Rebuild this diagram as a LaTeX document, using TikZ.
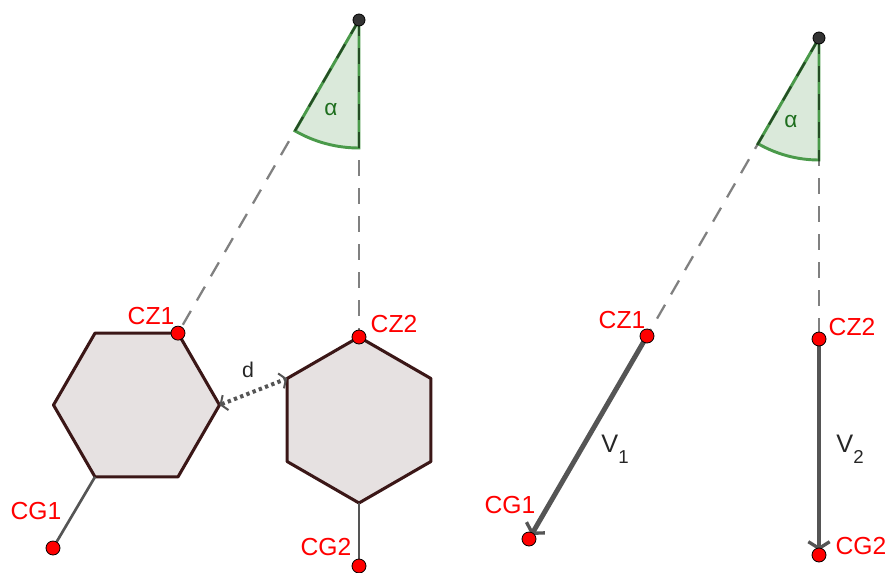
\documentclass[tikz,border=0pt]{standalone}
\usepackage{fontspec}
\setmainfont{Liberation Sans}
\usetikzlibrary{arrows.meta}

\definecolor{hexfill}{HTML}{E6E1E1}
\definecolor{hexline}{HTML}{3B1717}
\definecolor{anglefill}{HTML}{DAE9DA}
\definecolor{angleline}{HTML}{4A9A4A}
\definecolor{angletext}{HTML}{1E6E1E}
\definecolor{guide}{HTML}{808080}
\definecolor{vecgray}{HTML}{555555}
\definecolor{apexgray}{HTML}{333333}

\begin{document}
\begin{tikzpicture}[x=0.75pt,y=-0.75pt,
  reddot/.style={circle,draw=black,line width=0.6pt,fill=red,minimum size=10.5pt,inner sep=0pt},
  apexdot/.style={circle,draw=black,line width=0.6pt,fill=apexgray,minimum size=9pt,inner sep=0pt},
  lbl/.style={text=red,font=\fontsize{18.5}{18.5}\selectfont,inner sep=0pt},
  greek/.style={text=angletext,font=\fontsize{17}{17}\selectfont,inner sep=0pt},
  guideline/.style={draw=guide,line width=1.7pt,dash pattern=on 12pt off 9pt},
  hexa/.style={draw=hexline,fill=hexfill,line width=2.3pt,line join=round},
  wedge/.style={fill=anglefill,draw=angleline,line width=2.2pt},
  stick/.style={draw=vecgray,line width=2pt},
  vector/.style={draw=vecgray,line width=3.7pt,shorten >=3.5pt,-{Straight Barb[length=5pt,width=16pt,line width=2.5pt]}},
  gap/.style={draw=vecgray,line width=3pt,dash pattern=on 2.5pt off 2.5pt,
    {Straight Barb[length=4pt,width=12pt,line width=1.5pt]}-{Straight Barb[length=4pt,width=12pt,line width=1.5pt]}}]

  \useasboundingbox (0,0) rectangle (886,572);

  % Hexagons (left)
  \coordinate (apexA) at (359,20);
  \coordinate (hexA) at (136.5,405);
  \coordinate (hexB) at (359,420);
  \foreach \i in {0,...,5} {
    \coordinate (hA\i) at ([shift={(\i*60:83)}]hexA);
    \coordinate (hB\i) at ([shift={(\i*60+30:83)}]hexB);
  }
  \coordinate (cgA) at (53,548);
  \coordinate (cgB) at (359,566);

  % Vectors (right)
  \coordinate (apexB) at (819,38);
  \coordinate (czC) at (647,336);
  \coordinate (czD) at (819,339);
  \coordinate (cgC) at (529,539);
  \coordinate (cgD) at (819,555);

  \draw[wedge] (apexA) -- ++(90:128) arc[start angle=90,end angle=120,radius=128] -- cycle;
  \draw[wedge] (apexB) -- ++(90:122) arc[start angle=90,end angle=120,radius=122] -- cycle;

  \begin{scope}[blend mode=multiply]
    \draw[guideline] (apexA) -- (hA5);
    \draw[guideline] (apexA) -- (hB4);
    \draw[guideline] (apexB) -- (czC);
    \draw[guideline] (apexB) -- (czD);
  \end{scope}

  \draw[hexa] (hA0) -- (hA1) -- (hA2) -- (hA3) -- (hA4) -- (hA5) -- cycle;
  \draw[hexa] (hB0) -- (hB1) -- (hB2) -- (hB3) -- (hB4) -- (hB5) -- cycle;

  \draw[gap] (hA0) -- (hB3);

  \draw[stick] (hA2) -- (cgA);
  \draw[stick] (hB1) -- (cgB);
  \draw[vector] (czC) -- (cgC);
  \draw[vector] (czD) -- (cgD);

  \node[apexdot] (topA) at (apexA) {};
  \node[apexdot] (topB) at (apexB) {};
  \node[reddot] (dotczA) at (hA5) {};
  \node[reddot] (dotczB) at (hB4) {};
  \node[reddot] (dotcgA) at (cgA) {};
  \node[reddot] (dotcgB) at (cgB) {};
  \node[reddot] (dotczC) at (czC) {};
  \node[reddot] (dotczD) at (czD) {};
  \node[reddot] (dotcgC) at (cgC) {};
  \node[reddot] (dotcgD) at (cgD) {};

  \node[greek] (alphaA) at (331,110) {α};
  \node[greek] (alphaB) at (791,122) {α};

  \node[lbl] (lczA) at (151,316) {CZ1};
  \node[lbl] (lczB) at (394,324) {CZ2};
  \node[lbl] (lcgA) at (36,511) {CG1};
  \node[lbl] (lcgB) at (326,547) {CG2};
  \node[lbl] (lczC) at (622,320) {CZ1};
  \node[lbl] (lczD) at (852,327) {CZ2};
  \node[lbl] (lcgC) at (510,505) {CG1};
  \node[lbl] (lcgD) at (861,546) {CG2};

  \node[font=\fontsize{16}{16}\selectfont,text=black!85,inner sep=0pt] (dist) at (248,370) {d};
  \node[font=\fontsize{19}{19}\selectfont,text=black!85,inner sep=0pt] (vone) at (615,449) {V\raisebox{-0.45em}{\fontsize{14}{14}\selectfont 1}};
  \node[font=\fontsize{19}{19}\selectfont,text=black!85,inner sep=0pt] (vtwo) at (850,449) {V\raisebox{-0.45em}{\fontsize{14}{14}\selectfont 2}};

\end{tikzpicture}
\end{document}
